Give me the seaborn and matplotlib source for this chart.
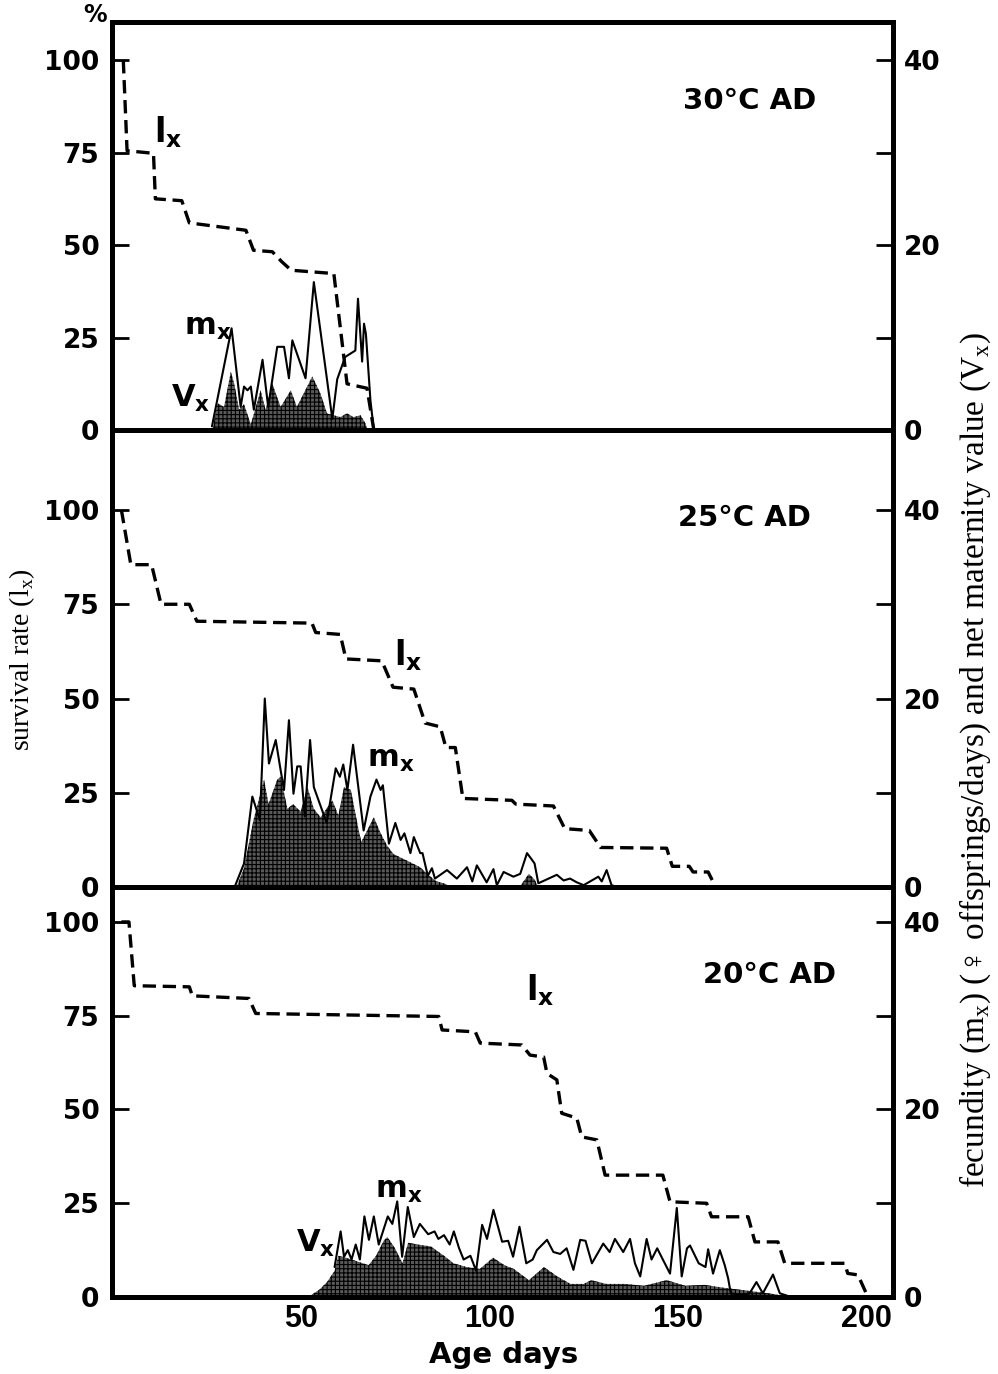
import matplotlib
matplotlib.use("Agg")
import matplotlib.pyplot as plt
import seaborn as sns

sns.set_style("white")
plt.rcParams['font.family'] = ['DejaVu Sans']
plt.rcParams['mathtext.fontset'] = 'dejavusans'
plt.rcParams['hatch.linewidth'] = 0.8
plt.rcParams['text.color'] = 'black'
plt.rcParams['xtick.color'] = 'black'
plt.rcParams['ytick.color'] = 'black'
plt.rcParams['axes.labelcolor'] = 'black'

# ---- 30 C ----
lx30_age = [3, 4, 11, 11.5, 18.5, 20.5, 35.5, 37.5, 42.5, 45, 47.5, 58.8, 62.3, 67.6, 69.4]
lx30 = [100, 75.5, 74.8, 62.5, 62, 56, 54, 48.6, 48.2, 45.5, 43.2, 42.3, 12.5, 11.3, 0]
mx30_age = [26.5, 31.7, 34.1, 35.0, 35.9, 36.8, 37.6, 39.9, 41.4, 43.8, 45.6, 46.9, 47.8,
            51.3, 53.5, 58.4, 59.7, 61.8, 64.5, 65.2, 66.3, 66.8, 67.3, 68.5, 69.4]
mx30 = [0.4, 11.0, 2.5, 4.7, 4.3, 4.7, 2.2, 7.6, 2.5, 9.0, 9.0, 5.6, 9.7,
        5.6, 16.0, 1.2, 5.5, 7.9, 8.6, 14.2, 7.4, 11.5, 10.4, 3.2, 0.0]
vx30_age = [26.6, 28, 29.7, 31.5, 32.4, 33.7, 35, 36.8, 39.4, 40.7, 42.5, 44.7, 47.4,
            49, 53.1, 55.2, 57, 60.5, 62.3, 64, 65.9, 67.2, 67.7]
vx30 = [0, 2.9, 2.5, 6.3, 5.0, 2.2, 2.8, 0.6, 4.3, 2.2, 5.0, 2.5, 4.3,
        2.5, 5.8, 4.0, 1.8, 1.4, 1.8, 1.4, 1.6, 0.7, 0]

# ---- 25 C ----
lx25_age = [2.5, 5, 10.5, 13, 20.5, 22.5, 53, 54, 60.5, 62, 71.5, 74.5, 80, 83, 87,
            88.5, 91, 93, 106, 107, 117, 120, 126.5, 129.5, 147, 148.5, 153, 154, 158, 160]
lx25 = [100, 85.5, 85.5, 75, 75, 70.5, 70, 67.5, 67, 60.5, 60, 53, 52.5, 43.5, 42.5,
        37, 37, 23.5, 23, 22, 21.5, 15.5, 15, 10.5, 10.3, 5.5, 5.5, 4, 4, 0]
mx25_age = [32.5, 35, 37.2, 39.2, 40.5, 41.6, 43.4, 44.7, 45.6, 46.9, 48.1, 49.1, 50,
            51.1, 52.5, 53.5, 56.9, 59.3, 60.4, 61.3, 62.4, 63.9, 66.7, 68.5, 70.1,
            71.2, 71.8, 73.4, 75.1, 76.5, 77.5, 79.1, 80, 81.7, 82.3, 83.7, 84.8, 85.6,
            88.8, 91.4, 94.1, 95.5, 96.7, 99.3, 101.1, 102, 103.8, 106.4, 108.2, 110,
            111.3, 112, 113, 117.9, 119.7, 121.4, 123.2, 125, 128.9, 129.8, 131.1, 132.4, 134]
mx25 = [0, 2.5, 9.6, 7.1, 20, 13.1, 15.6, 12.4, 10.3, 17.7, 9.9, 12.8, 12.8,
        7.5, 15.6, 10.6, 6.8, 12.6, 11.7, 13.0, 10.3, 15.1, 6.0, 9.6, 11.4,
        10.3, 10.8, 4.6, 6.8, 5.0, 5.7, 3.6, 5.3, 3.6, 3.6, 1.2, 2.0, 0.9,
        1.8, 0.9, 2.1, 0.6, 2.3, 0.5, 1.9, 0.2, 1.6, 1.1, 1.4, 3.6,
        2.9, 2.5, 0.4, 1.3, 0.7, 0.9, 0.5, 0.2, 1.1, 0.6, 1.8, 0.2, 0]
vx25_age = [33, 35, 37.5, 40.3, 41.5, 43.8, 44.7, 46.5, 48, 50, 51.8, 53.5, 55.3, 58.4,
            60, 61.5, 63.3, 65.4, 66.1, 69.4, 71.1, 72.9, 74.6, 78.2, 81.7, 83.5, 86,
            88, 90, 108, 110.5, 112, 113]
vx25 = [0, 2.0, 7.1, 11.4, 8.8, 11.4, 11.7, 8.3, 8.8, 8.0, 10.6, 8.3, 7.4, 9.2,
        7.6, 10.6, 10.3, 6.0, 4.8, 7.4, 5.8, 4.4, 3.5, 2.8, 2.1, 1.4, 0.6,
        0.4, 0, 0, 1.4, 0.8, 0]

# ---- 20 C ----
lx20_age = [2.5, 4.5, 5.9, 20.5, 21.3, 36.3, 38.1, 86.6, 87.5, 96.3, 97.6, 108.6, 110.8,
            114.4, 115.3, 117.9, 119.2, 123.2, 124.5, 128.5, 130.7, 146, 147.9, 157.6,
            158.9, 168.6, 170.4, 176.5, 178.3, 194.2, 195, 197.7, 199.9]
lx20 = [100, 100, 83, 82.7, 80.3, 79.6, 75.6, 74.8, 71.2, 70.7, 67.7, 67.2, 64.5,
        64, 59.6, 57.9, 49, 47.7, 42.7, 41.9, 32.5, 32.5, 25.4, 25,
        21.4, 21.4, 14.7, 14.7, 9, 9, 6.3, 5.9, 1]
mx20_age = [59, 60.6, 61.5, 62.5, 63.5, 64.6, 65.7, 66.9, 68.1, 69.4, 70.7, 73.1, 74.3,
            75.6, 76.9, 78.4, 80, 81.6, 83.8, 85.5, 86.5, 88, 89.5, 90.6, 92, 93.2, 95,
            96.5, 98.1, 99.4, 101.1, 103.4, 105, 106.3, 108, 109.8, 111.5, 112.6, 115.3,
            117, 118.8, 120.5, 122.3, 124.1, 125.5, 127.2, 130.2, 131.9, 133.3, 135.5,
            137.3, 138.6, 140, 141.7, 143, 144.5, 146, 147.9, 149.7, 151, 152.4, 153.2,
            155.5, 157.3, 158, 159.3, 161.1, 162.4, 163.3, 164, 167, 169, 170.8, 172.5,
            175.2, 177, 180]
mx20 = [3.2, 7.0, 4.3, 5.0, 4.0, 5.6, 4.0, 8.6, 6.1, 8.6, 5.6, 8.6, 7.8,
        10.2, 4.3, 9.6, 6.4, 7.8, 6.7, 7.0, 6.2, 6.6, 5.6, 7.0, 5.2, 4.0, 4.4,
        2.8, 7.7, 6.2, 9.3, 5.9, 6.0, 4.3, 7.5, 3.6, 4.0, 5.0, 6.1,
        4.8, 4.6, 5.2, 2.9, 6.1, 6.0, 3.6, 5.7, 4.8, 6.2, 4.8,
        6.2, 3.6, 2.2, 6.2, 4.0, 5.2, 4.0, 2.5, 9.5, 2.2, 5.2, 5.5,
        3.6, 3.2, 5.1, 2.5, 5.0, 3.4, 2.0, 0.4, 0.2, 0.4, 1.6, 0.4,
        2.4, 0.4, 0]
vx20_age = [52, 55, 57, 59, 60, 62, 65, 68, 70, 72, 73, 75, 77, 78.5, 81, 84.5, 88,
            90.5, 94, 97.5, 101, 104, 106.5, 110.5, 114.5, 118, 121.5, 125, 127, 131,
            136, 141, 147, 152, 157, 162, 168, 174, 180]
vx20 = [0, 0.8, 1.6, 2.8, 4.4, 4.2, 3.8, 3.4, 4.4, 6.0, 6.4, 5.2, 3.6, 5.8, 5.6, 5.4, 4.4,
        3.6, 3.2, 3.0, 4.2, 3.4, 3.0, 1.8, 3.2, 2.2, 1.4, 1.4, 1.8, 1.4,
        1.4, 1.2, 1.8, 1.2, 1.3, 1.0, 0.7, 0.4, 0]

left_ticks = [0, 25, 50, 75, 100]
right_ticks = [0, 10, 20, 30, 40]
right_labels = ['0', '', '20', '', '40']
x_ticks = [50, 100, 150, 200]

panels = [
    dict(title="30°C AD", lx_age=lx30_age, lx=lx30, mx_age=mx30_age, mx=mx30,
         vx_age=vx30_age, vx=vx30, rect=[0.1122, 0.687, 0.7826, 0.297], ytop=110.3,
         title_xy=(169, 89), lx_xy=(15, 80.5), mx_xy=(25.4, 27.6), vx_xy=(20.9, 8.6)),
    dict(title="25°C AD", lx_age=lx25_age, lx=lx25, mx_age=mx25_age, mx=mx25,
         vx_age=vx25_age, vx=vx25, rect=[0.1122, 0.3544, 0.7826, 0.3326], ytop=121.2,
         title_xy=(167.7, 97.9), lx_xy=(78.6, 61.5), mx_xy=(73.8, 33.7), vx_xy=None),
    dict(title="20°C AD", lx_age=lx20_age, lx=lx20, mx_age=mx20_age, mx=mx20,
         vx_age=vx20_age, vx=vx20, rect=[0.1122, 0.056, 0.7826, 0.2984], ytop=109.3,
         title_xy=(174.3, 85.9), lx_xy=(113.5, 81.9), mx_xy=(75.9, 28.5), vx_xy=(54, 14.4)),
]

fig = plt.figure(figsize=(9.98, 13.74), dpi=100)

for i, p in enumerate(panels):
    ax = fig.add_axes(p["rect"])
    ax2 = ax.twinx()
    ax.set_zorder(ax2.get_zorder() + 1)
    ax.patch.set_visible(False)

    # Vx fill and mx line on the right (offspring/day) scale
    ax2.fill_between(p["vx_age"], 0, p["vx"], facecolor="0.35", edgecolor="black",
                     hatch="++++", linewidth=0)
    sns.lineplot(x=p["mx_age"], y=p["mx"], ax=ax2, color="black", linewidth=1.5,
                 estimator=None)
    # lx dashed on the left (%) scale
    sns.lineplot(x=p["lx_age"], y=p["lx"], ax=ax, color="black", linewidth=2.4,
                 estimator=None)
    ax.lines[-1].set_dashes((4, 2))

    ax.set_xlim(0, 207)
    ax.set_ylim(0, p["ytop"])
    ax2.set_ylim(0, p["ytop"] / 2.5)

    ax.set_yticks(left_ticks, [str(t) for t in left_ticks], fontsize=19, fontweight="bold")
    ax.tick_params(axis="y", direction="in", length=12, width=2, pad=9)
    ax2.set_yticks(right_ticks, right_labels, fontsize=19, fontweight="bold")
    ax2.tick_params(axis="y", direction="in", length=12, width=2, pad=8)

    ax.set_xticks(x_ticks)
    ax.tick_params(axis="x", direction="in", length=12, width=2, pad=5,
                   labelbottom=(i == 2))
    if i == 2:
        ax.set_xticklabels([str(t) for t in x_ticks], fontsize=22, fontweight="bold",
                           family=["Liberation Sans Narrow", "Liberation Sans"])
    ax.set_xlabel("")
    ax.set_ylabel("")
    ax2.set_ylabel("")

    for a in (ax, ax2):
        for s in a.spines.values():
            s.set_linewidth(3.5)
            s.set_color("black")

    ax.text(*p["title_xy"], p["title"], fontsize=21, fontweight="bold",
            ha="center", va="center")
    ax.text(*p["lx_xy"], r"$\mathbf{l_x}$", fontsize=24, ha="center", va="center")
    ax.text(*p["mx_xy"], r"$\mathbf{m_x}$", fontsize=22, ha="center", va="center")
    if p["vx_xy"] is not None:
        ax.text(*p["vx_xy"], r"$\mathbf{V_x}$", fontsize=22, ha="center", va="center")

fig.text(0.095, 0.989, "%", fontsize=17, fontweight="bold", ha="center", va="center")
fig.text(0.505, 0.014, "Age days", fontsize=21, fontweight="bold", ha="center",
         va="center")
fig.text(0.022, 0.52, "survival rate (l$_\\mathregular{x}$)", rotation=90, fontsize=20,
         family=["Liberation Serif", "DejaVu Serif"], ha="center", va="center")
fig.text(0.977, 0.447,
         "fecundity (m$_\\mathregular{x}$) (\u2640 offsprings/days) and net maternity value (V$_\\mathregular{x}$)",
         rotation=90, fontsize=24, family=["Liberation Serif", "DejaVu Serif"],
         ha="center", va="center")

fig.savefig("out.png", dpi=100, facecolor="white")
